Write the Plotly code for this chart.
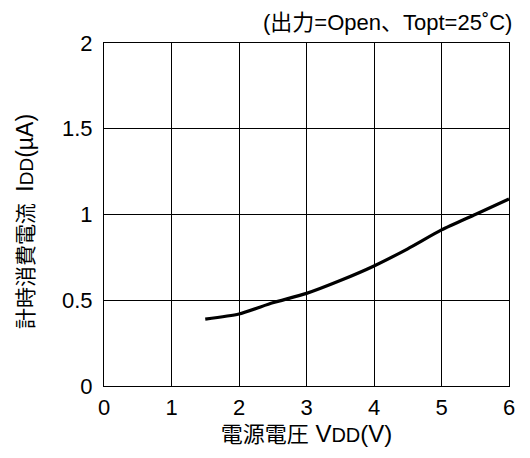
import plotly.graph_objects as go

vdd = [1.5, 2.0, 2.5, 3.0, 3.5, 4.0, 4.5, 5.0, 5.5, 6.0]
idd = [0.39, 0.42, 0.485, 0.54, 0.615, 0.70, 0.80, 0.91, 1.0, 1.09]
x_ticks = [0, 1, 2, 3, 4, 5, 6]
y_ticks = [0, 0.5, 1, 1.5, 2]
y_tick_labels = ["0", "0.5", "1", "1.5", "2"]

FONT = "Liberation Sans, Arial, Noto Sans CJK JP"

x_title = ('電源電圧<span style="font-size:24px"> V</span>'
           '<span style="font-size:20px">DD</span>'
           '<span style="font-size:24px">(V)</span>')
y_title = ('計時消費電流<span style="font-size:23px">\u2002I</span>'
           '<span style="font-size:19px">DD</span>'
           '<span style="font-size:23px">(µA)</span>'
           '<span style="font-size:28px">\u2002</span>')

fig = go.Figure()
fig.add_trace(go.Scatter(x=vdd, y=idd, mode="lines",
                         line=dict(color="black", width=3.2, shape="spline", smoothing=0.6),
                         showlegend=False, hoverinfo="skip"))

axis_common = dict(showline=True, linecolor="black", linewidth=1, mirror=True,
                   showgrid=True, gridcolor="black", gridwidth=1, zeroline=False,
                   ticks="", tickfont=dict(size=22, color="black", family=FONT))

fig.update_xaxes(range=[0, 6], tickvals=x_ticks, ticktext=[str(t) for t in x_ticks],
                 title=dict(text=x_title,
                            font=dict(size=22, color="black", family=FONT), standoff=7),
                 ticklabelstandoff=2, **axis_common)
fig.update_yaxes(range=[0, 2], tickvals=y_ticks, ticktext=y_tick_labels,
                 title=dict(text=y_title,
                            font=dict(size=21, color="black", family=FONT), standoff=23),
                 ticklabelstandoff=6, **axis_common)

fig.add_annotation(text="(出力=Open、Topt=25˚C)", xref="paper", yref="paper",
                   x=1.0, y=1.0, xanchor="right", yanchor="bottom", yshift=6, xshift=5,
                   showarrow=False, font=dict(size=22, color="black", family=FONT))

fig.update_layout(width=514, height=442, margin=dict(l=96, r=7, t=35, b=61),
                  plot_bgcolor="white", paper_bgcolor="white",
                  font=dict(family=FONT, color="black"))

fig.write_html("out.html")
